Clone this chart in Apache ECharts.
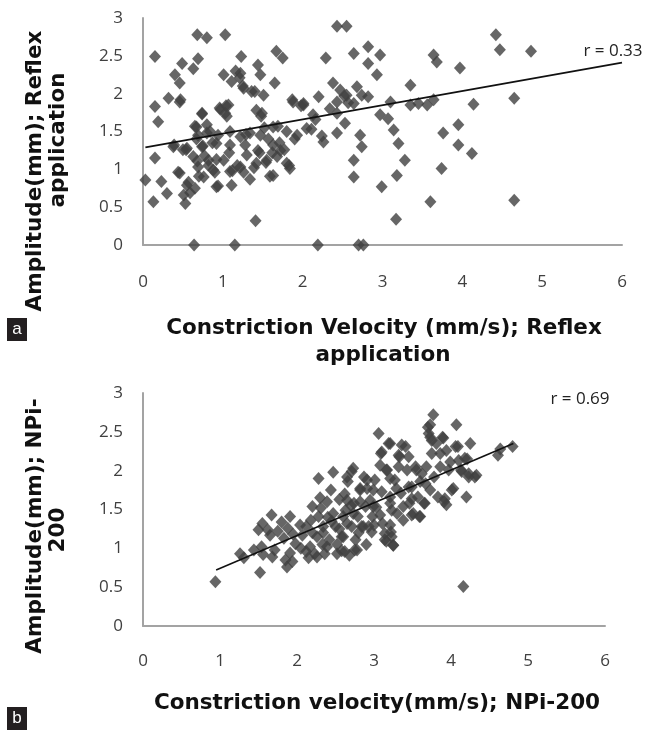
<!DOCTYPE html>
<html>
<head>
<meta charset="utf-8">
<script src="https://cdn.jsdelivr.net/npm/echarts@6/dist/echarts.min.js"></script>
<style>
  html, body { margin: 0; padding: 0; background: #fff; }
  #chart { width: 646px; height: 732px; }
</style>
</head>
<body>
<div id="chart"></div>
<script>
// panel a: constriction velocity (mm/s) vs amplitude (mm), reflex application
var velA = [
  0.49, 0.63, 0.40, 0.46, 1.01, 1.11, 1.22, 1.44, 1.47, 1.65, 1.26, 1.40, 1.51, 0.32, 0.46, 0.15, 0.96, 1.07, 1.03, 1.42,
  1.49, 1.88, 2.01, 0.19, 0.74, 0.67, 0.80, 0.69, 0.84, 0.94, 1.09, 1.22, 1.34, 1.47, 1.63, 1.80, 1.93, 0.38, 0.55, 0.74,
  0.92, 1.09, 1.28, 1.44, 1.63, 1.72, 0.15, 0.63, 0.82, 1.01, 1.30, 1.42, 1.55, 1.68, 1.80, 1.84, 0.46, 0.69, 0.88, 1.09,
  1.22, 0.03, 0.23, 0.55, 0.76, 0.92, 1.11, 1.63, 0.30, 0.51, 0.65, 0.13, 0.53,
  0.44, 0.54, 0.57, 0.59, 0.67, 0.68, 0.70, 0.75, 0.77, 0.82, 0.87, 0.90, 0.92, 0.94, 1.08, 1.12, 1.18, 1.26, 1.29, 1.34,
  1.39, 1.46, 1.54, 1.57, 1.59, 1.62, 1.71, 1.77, 1.83, 0.97, 1.04, 1.05, 1.16, 1.21, 1.25, 1.36, 1.48, 1.52, 1.69, 1.87,
  1.90, 1.98, 0.65, 0.74, 0.80, 0.47, 0.39, 0.50,
  2.43, 2.55, 2.29, 2.64, 2.82, 2.97, 2.82, 2.93, 3.64, 3.68, 2.38, 3.35, 2.47, 2.68, 2.20, 2.55, 2.74, 2.82, 2.01, 2.43,
  2.64, 3.10, 3.35, 3.45, 3.56, 3.64, 2.43, 2.13, 2.97, 3.07, 2.53, 2.05, 2.43, 2.72, 3.14, 2.26, 2.74, 3.20, 3.76, 2.64,
  3.28, 3.74, 2.64, 3.18, 2.99, 3.60, 2.11, 2.16, 2.24, 2.34, 2.52, 2.57,
  0.15, 0.68, 0.80, 0.69, 1.03, 1.23, 1.67, 1.75, 0.64, 1.15, 2.19, 2.70, 2.76, 1.41, 3.17, 3.95, 3.95, 3.97, 4.14, 4.12,
  4.42, 4.47, 4.65, 4.65, 4.86
];
var ampA = [
  2.40, 2.33, 2.25, 2.14, 2.25, 2.16, 2.27, 2.38, 2.25, 2.14, 2.07, 2.03, 1.98, 1.94, 1.89, 1.83, 1.81, 1.85, 1.74, 1.78,
  1.74, 1.89, 1.85, 1.63, 1.74, 1.56, 1.59, 1.45, 1.50, 1.45, 1.50, 1.43, 1.48, 1.45, 1.56, 1.50, 1.45, 1.30, 1.28, 1.30,
  1.34, 1.32, 1.32, 1.25, 1.32, 1.25, 1.15, 1.17, 1.12, 1.12, 1.19, 1.08, 1.12, 1.17, 1.08, 1.01, 0.95, 1.03, 0.99, 0.97,
  1.03, 0.86, 0.84, 0.79, 0.90, 0.77, 0.79, 0.92, 0.68, 0.66, 0.75, 0.57, 0.55,
  0.96, 1.26, 0.83, 0.69, 1.40, 1.11, 0.91, 1.31, 1.18, 1.05, 1.35, 0.96, 1.13, 0.78, 1.22, 0.98, 1.05, 0.96, 1.46, 0.87,
  1.02, 1.22, 1.09, 1.40, 0.91, 1.22, 1.35, 1.26, 1.05, 1.79, 1.84, 1.70, 2.30, 2.21, 2.10, 2.03, 1.70, 1.55, 1.57, 1.92,
  1.40, 1.84, 1.57, 1.73, 1.48, 1.92, 1.32, 1.26,
  2.89, 2.89, 2.47, 2.53, 2.62, 2.51, 2.40, 2.25, 2.51, 2.42, 2.14, 2.11, 2.05, 2.09, 1.96, 1.98, 1.98, 1.96, 1.87, 1.89,
  1.87, 1.89, 1.85, 1.87, 1.85, 1.92, 1.74, 1.72, 1.72, 1.67, 1.61, 1.54, 1.48, 1.45, 1.52, 1.36, 1.30, 1.34, 1.48, 1.12,
  1.12, 1.01, 0.90, 0.92, 0.77, 0.57, 1.53, 1.66, 1.44, 1.80, 1.97, 1.88,
  2.49, 2.78, 2.74, 2.46, 2.78, 2.49, 2.56, 2.47, 0, 0, 0, 0, 0, 0.32, 0.34, 1.59, 1.32, 2.34, 1.86, 1.21,
  2.78, 2.58, 1.94, 0.59, 2.56
];
var trendA = [[0.03, 1.29], [6.0, 2.41]];

// panel b: constriction velocity (mm/s) vs amplitude (mm), NPi-200
var velB = [
  0.94, 1.26, 1.31, 1.52, 1.50, 1.67, 1.54, 1.65, 1.80, 1.91, 1.87, 1.91, 2.04, 2.17, 1.56, 1.71, 1.83, 1.88, 1.94, 1.98,
  2.07, 2.12, 2.18, 1.62, 1.44, 1.55, 1.75, 1.68, 1.85, 1.95,
  2.20, 2.23, 2.26, 2.28, 2.28, 2.34, 2.36, 2.39, 2.42, 2.44, 2.47, 2.47, 2.50, 2.52, 2.55, 2.58, 2.34, 2.26, 2.39, 2.52,
  2.45, 2.31, 2.55, 2.40, 2.58, 2.33, 2.20, 2.12, 2.30, 2.15, 2.05,
  3.06, 3.77, 3.73, 3.71, 4.07, 3.75, 3.90, 4.25, 4.09, 3.86, 3.21, 3.36, 3.10, 3.32, 3.45, 3.99, 4.18, 3.08, 3.16, 3.32,
  3.55, 3.68, 4.14, 4.33, 4.23, 2.73, 2.65, 2.91, 3.21, 3.60, 2.82, 2.99, 3.29, 3.45, 3.73, 4.03, 3.92, 4.20, 3.94, 2.65,
  2.82, 3.21, 3.49, 3.66, 3.38, 2.99, 3.23, 2.73, 3.08, 3.49, 3.60, 2.65, 2.86, 3.21, 2.97, 3.14, 2.60, 3.23, 2.75, 3.16,
  3.25, 2.62, 4.16,
  2.60, 2.63, 2.66, 2.68, 2.71, 2.74, 2.76, 2.79, 2.84, 2.89, 2.93, 2.98, 3.03, 3.11, 3.30, 3.38, 3.51, 3.57, 3.46, 3.83,
  3.78, 4.01, 2.71, 2.82, 3.17, 3.43,
  2.78, 2.87, 2.91, 2.95, 3.01, 3.09, 3.10, 3.14, 3.19, 3.21, 3.22, 3.25, 3.27, 3.33, 3.35, 3.41, 3.49, 3.54, 3.59, 3.62,
  3.65, 3.67, 3.70, 3.73, 3.75, 3.81, 3.86, 3.89, 3.91, 3.94, 3.97, 4.06, 4.10, 4.13, 4.21, 4.23, 4.31, 2.62, 2.70, 2.80,
  2.90, 3.00,
  4.61, 4.64, 4.80
];
var ampB = [
  0.57, 0.93, 0.88, 0.69, 1.24, 1.43, 1.02, 1.17, 1.34, 1.41, 0.76, 0.94, 1.30, 1.02, 0.92, 0.98, 1.13, 1.26, 0.83, 1.06,
  1.17, 0.96, 1.36, 1.24, 0.98, 1.32, 1.22, 0.89, 0.85, 1.18,
  1.54, 0.93, 1.15, 1.90, 1.41, 1.28, 0.93, 1.60, 1.11, 1.75, 1.98, 1.45, 1.28, 0.93, 1.63, 1.15, 1.20, 0.89, 1.02, 1.05,
  1.35, 1.52, 1.25, 1.40, 0.97, 1.05, 1.20, 1.28, 1.65, 0.88, 1.00,
  2.48, 2.72, 2.59, 2.48, 2.59, 2.39, 2.42, 2.35, 2.31, 2.22, 2.35, 2.33, 2.24, 2.20, 2.18, 2.11, 2.16, 2.07, 2.01, 2.05,
  2.01, 2.05, 1.99, 1.94, 1.92, 2.03, 1.92, 1.88, 1.90, 1.86, 1.77, 1.75, 1.77, 1.79, 1.75, 1.77, 1.64, 1.66, 1.56, 1.62,
  1.60, 1.66, 1.64, 1.58, 1.54, 1.54, 1.49, 1.45, 1.43, 1.43, 1.41, 1.32, 1.28, 1.30, 1.21, 1.19, 1.15, 1.15, 0.98, 1.09,
  1.04, 0.96, 0.51,
  1.41, 1.49, 1.86, 0.91, 1.28, 1.58, 1.11, 1.41, 1.28, 1.54, 1.28, 1.41, 1.53, 1.32, 1.45, 1.36, 1.45, 1.66, 1.58, 1.66,
  1.92, 1.75, 1.99, 1.75, 2.01, 2.01,
  0.98, 1.92, 1.77, 1.62, 1.88, 2.22, 1.73, 1.11, 2.35, 1.58, 1.21, 1.04, 1.88, 2.18, 1.71, 2.31, 1.79, 2.05, 1.41, 1.96,
  1.58, 1.83, 2.56, 2.43, 2.22, 2.35, 2.05, 2.43, 1.60, 2.26, 2.01, 2.31, 2.13, 2.01, 2.15, 1.96, 1.92, 1.70, 1.55, 1.20,
  1.05, 1.30,
  2.20, 2.28, 2.31
];
var trendB = [[0.95, 0.72], [4.81, 2.35]];

var xTicks = [0, 1, 2, 3, 4, 5, 6];
var yTicks = [0, 0.5, 1, 1.5, 2, 2.5, 3];
var rLabels = ['r = 0.33', 'r = 0.69'];

function zip(xs, ys) {
  var out = [];
  for (var i = 0; i < xs.length; i++) out.push([xs[i], ys[i]]);
  return out;
}

var ink = '#404040';
var marker = '#404040';
var axisGray = '#a3a3a3';
var titleFont = 'bold 21.5px "DejaVu Sans"';

function makeX(gridIndex, margin) {
  return {
    type: 'value', gridIndex: gridIndex,
    min: xTicks[0], max: xTicks[xTicks.length - 1], interval: 1,
    axisLine: { show: true, lineStyle: { color: axisGray, width: 2 } },
    axisTick: { show: false },
    splitLine: { show: false },
    axisLabel: { color: ink, fontSize: 17, fontFamily: 'Open Sans', margin: margin }
  };
}
function makeY(gridIndex) {
  return {
    type: 'value', gridIndex: gridIndex,
    min: yTicks[0], max: yTicks[yTicks.length - 1], interval: 0.5,
    axisLine: { show: true, onZero: false, lineStyle: { color: axisGray, width: 2 } },
    axisTick: { show: false },
    splitLine: { show: false },
    axisLabel: { color: ink, fontSize: 17, fontFamily: 'Open Sans', margin: 20 }
  };
}
function vtext(str, x, y) {
  return {
    type: 'text', x: x, y: y, rotation: Math.PI / 2,
    style: { text: str, font: titleFont, fill: '#111', textAlign: 'center', textVerticalAlign: 'middle', align: 'center', verticalAlign: 'middle' }
  };
}
function htext(str, x, y, font, fill) {
  return {
    type: 'text', x: x, y: y,
    style: { text: str, font: font, fill: fill, textAlign: 'center', textVerticalAlign: 'middle', align: 'center', verticalAlign: 'middle' }
  };
}
function panelTag(letter, y) {
  return [
    { type: 'rect', shape: { x: 7, y: y, width: 20, height: 23 }, style: { fill: '#231f20' } },
    htext(letter, 17, y + 11, '17px "Liberation Sans"', '#fff')
  ];
}

var chart = echarts.init(document.getElementById('chart'), null, { renderer: 'canvas' });

var option = {
  backgroundColor: '#fff',
  animation: false,
  grid: [
    { left: 143, top: 18, width: 479, height: 227 },
    { left: 143, top: 393, width: 462, height: 233 }
  ],
  xAxis: [makeX(0, 29), makeX(1, 27)],
  yAxis: [makeY(0), makeY(1)],
  series: [
    {
      type: 'scatter', xAxisIndex: 0, yAxisIndex: 0,
      data: zip(velA, ampA),
      symbol: 'diamond', symbolSize: [12, 13],
      itemStyle: { color: marker }
    },
    {
      type: 'line', xAxisIndex: 0, yAxisIndex: 0,
      data: trendA, showSymbol: false, silent: true,
      lineStyle: { color: '#111', width: 1.6 }
    },
    {
      type: 'scatter', xAxisIndex: 1, yAxisIndex: 1,
      data: zip(velB, ampB),
      symbol: 'diamond', symbolSize: [12, 13],
      itemStyle: { color: marker }
    },
    {
      type: 'line', xAxisIndex: 1, yAxisIndex: 1,
      data: trendB, showSymbol: false, silent: true,
      lineStyle: { color: '#111', width: 1.6 }
    }
  ],
  graphic: [
    vtext('Amplitude(mm); Reflex', 35, 171),
    vtext('application', 58, 140),
    vtext('Amplitude(mm); NPi-', 35, 526),
    vtext('200', 58, 530),
    htext('Constriction Velocity (mm/s); Reflex', 384, 328, titleFont, '#111'),
    htext('application', 383, 355, titleFont, '#111'),
    htext('Constriction velocity(mm/s); NPi-200', 377, 703, titleFont, '#111'),
    htext(rLabels[0], 613, 51, '17px "Open Sans"', '#222'),
    htext(rLabels[1], 580, 399, '17px "Open Sans"', '#222')
  ].concat(panelTag('a', 318), panelTag('b', 707))
};

chart.setOption(option);
window.addEventListener('resize', function() {
  chart.resize();
});
</script>
</body>
</html>
